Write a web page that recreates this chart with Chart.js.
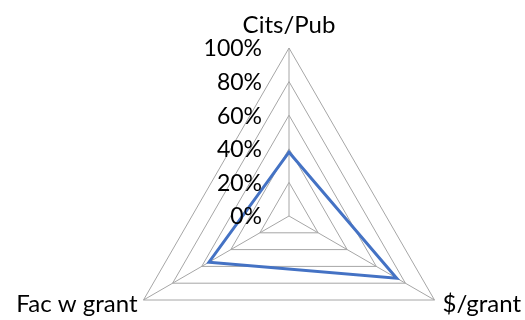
<!DOCTYPE html>
<html>
<head>
<meta charset="utf-8">
<title>Radar</title>
<script src="https://cdn.jsdelivr.net/npm/chart.js@4/dist/chart.umd.min.js"></script>
<style>
    html, body { margin: 0; padding: 0; background: #ffffff; overflow: hidden; }
    #wrap { width: 525px; height: 320px; overflow: hidden; }
</style>
</head>
<body>
<div id="wrap"><canvas id="radarChart" width="525" height="400"></canvas></div>
<script>
const categories = ["Cits/Pub", "$/grant", "Fac w grant"];
const shareValues = [38, 74, 55];
const tickValues = [0, 20, 40, 60, 80, 100];
const tickLabels = ["0%", "20%", "40%", "60%", "80%", "100%"];

const TICK_FONT = '23px Lato, "Open Sans", sans-serif';
const NAME_FONT = '24px Lato, "Open Sans", sans-serif';
const GRID_COLOR = "#a6a6a6";

// tick labels sit left of the vertical axis, names sit past each tip
const axisText = {
    id: "axisText",
    afterDraw(chart) {
        const scale = chart.scales.r;
        const ctx = chart.ctx;
        ctx.save();
        ctx.fillStyle = "#000000";
        ctx.font = TICK_FONT;
        ctx.textAlign = "right";
        ctx.textBaseline = "middle";
        tickValues.forEach((v, i) => {
            const y = scale.yCenter - scale.getDistanceFromCenterForValue(v);
            ctx.fillText(tickLabels[i], scale.xCenter - 27, y + 1);
        });
        ctx.font = NAME_FONT;
        categories.forEach((name, i) => {
            const tip = scale.getPointPosition(i, scale.drawingArea);
            if (Math.abs(tip.x - scale.xCenter) < 1) {
                ctx.textAlign = "center";
                ctx.textBaseline = "alphabetic";
                ctx.fillText(name, tip.x, tip.y - 15);
            } else {
                ctx.textAlign = tip.x > scale.xCenter ? "left" : "right";
                ctx.textBaseline = "middle";
                const dx = tip.x > scale.xCenter ? 8 : -6;
                ctx.fillText(name, tip.x + dx, tip.y + 4);
            }
        });
        ctx.restore();
    }
};

new Chart(document.getElementById("radarChart"), {
    type: "radar",
    data: {
        labels: categories,
        datasets: [{
            data: shareValues,
            borderColor: "#4472c4",
            borderWidth: 3,
            fill: false,
            pointRadius: 0,
            pointHoverRadius: 0,
            tension: 0
        }]
    },
    options: {
        responsive: false,
        animation: false,
        devicePixelRatio: 1,
        layout: {
            padding: { left: 121, right: 67, top: 48, bottom: 15 }
        },
        plugins: {
            legend: { display: false },
            tooltip: { enabled: false }
        },
        scales: {
            r: {
                min: 0,
                max: 100,
                ticks: { stepSize: 20, display: false },
                grid: { color: GRID_COLOR, lineWidth: 1 },
                angleLines: { color: GRID_COLOR, lineWidth: 1 },
                pointLabels: { display: false }
            }
        }
    },
    plugins: [axisText]
});
</script>
</body>
</html>
